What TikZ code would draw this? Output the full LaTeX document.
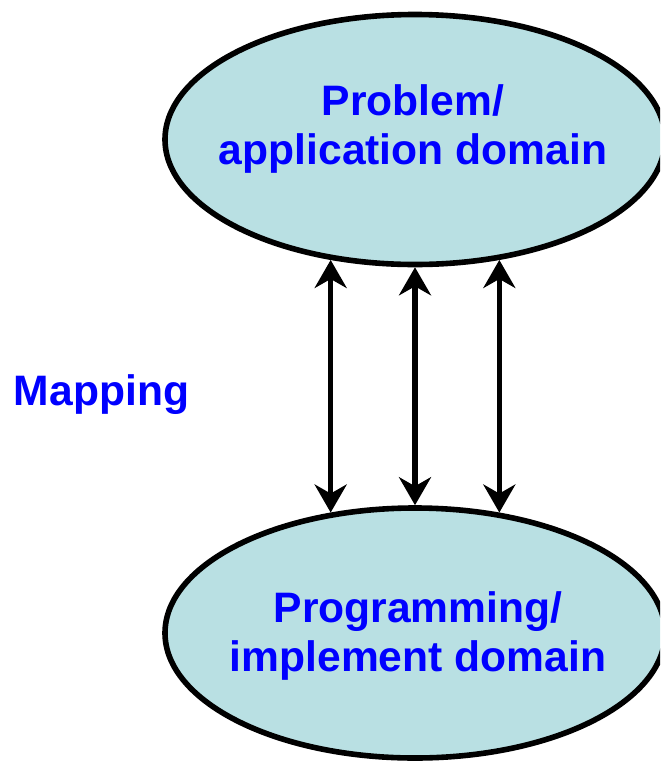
\documentclass[tikz,border=0pt]{standalone}
\usepackage{fontspec}
\setmainfont{Liberation Sans}
\usetikzlibrary{shapes.geometric,arrows.meta}
\definecolor{domfill}{RGB}{185,224,227}
\definecolor{domblue}{RGB}{0,0,255}

\begin{document}
\begin{tikzpicture}[x=0.5pt, y=-0.5pt,
    domellipse/.style={draw, ellipse, line width=2.8pt, fill=domfill, minimum width=250pt, minimum height=125pt, inner sep=0pt},
    domtext/.style={text=domblue, font=\fontsize{21.3}{24.5}\selectfont\bfseries, align=center, inner sep=0pt},
    maplink/.style={{Stealth[length=14pt, width=16pt, inset=4.5pt]}-{Stealth[length=14pt, width=16pt, inset=4.5pt]}, line width=2.8pt}]
    \useasboundingbox (0,0) rectangle (660,761);
    \clip (0,0) rectangle (660,761);

    \node [domellipse] (problem) at (415,139.5) {};
    \node [domellipse] (program) at (415,633) {};
    \node [domtext] (problemlbl) at (413,128.5) {Problem/\\application domain};
    \node [domtext] (programlbl) at (418,635.5) {Programming/\\implement domain};
    \node [domtext, anchor=base] (mapping) at (101.5,405) {Mapping};

    \draw [maplink] (problem.235) -- (program.125);
    \draw [maplink] (problem.south) -- (program.north);
    \draw [maplink] (problem.305) -- (program.55);
\end{tikzpicture}
\end{document}
